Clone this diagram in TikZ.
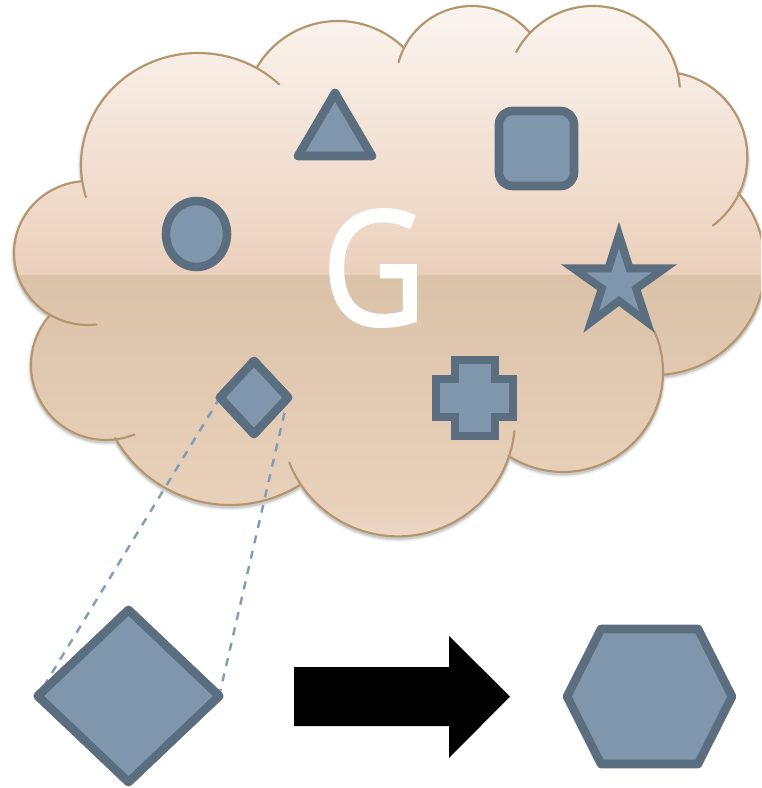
\documentclass[tikz,border=0pt]{standalone}
\usepackage{fontspec}
\setmainfont{Open Sans}
\newfontfamily\letterfont[FakeBold=1.5]{Open Sans}
\usetikzlibrary{shapes.geometric}
\definecolor{cloudline}{HTML}{B5956C}
\definecolor{shapefill}{HTML}{8096AD}
\definecolor{shapeline}{HTML}{5A6E80}
\definecolor{dashcol}{HTML}{7F9CB8}
\definecolor{cloudtop}{HTML}{FBF5F0}
\definecolor{cloudmid}{HTML}{EBD0BC}
\definecolor{bandtop}{HTML}{DBC3AA}
\definecolor{bandmid}{HTML}{E8D0BA}
\definecolor{bandlow}{HTML}{ECD8C8}
\newcommand{\lobe}[6]{plot[domain=#5:#6,samples=60] ({#1+#3*cos(\x)},{#2-#4*sin(\x)})}
\newcommand{\joined}[6]{-- plot[domain=#5:#6,samples=60] ({#1+#3*cos(\x)},{#2-#4*sin(\x)})}
\newcommand{\cloudoutline}{%
  (86,197)
  \joined{198}{165}{117}{112}{196.6}{46}
  \joined{338}{115}{94}{94}{149.9}{46.3}
  \joined{472}{82}{76}{76}{164.9}{40.2}
  \joined{593}{93}{87}{87}{152}{4}
  \joined{662}{157}{85.3}{85.3}{78.4}{-53.5}
  \joined{655}{265}{110}{110}{40.9}{-85.8}
  \joined{563}{372}{100}{100}{24}{-123}
  \joined{398}{419.4}{117}{117}{-5.7}{-158.4}
  \joined{230}{373}{132}{132}{-58.2}{-150.5}
  \joined{106}{365}{75}{75}{-67.6}{-221.6}
  \joined{88}{253}{74}{72}{276.4}{95}
  -- cycle}
\tikzset{
  x=0.75pt,y=-0.75pt,
  lobeline/.style={draw=cloudline,line width=1.6pt,line cap=round},
  figure/.style={draw=shapeline,fill=shapefill,line width=6.4pt,line join=round},
  sharpfigure/.style={draw=shapeline,fill=shapefill,line width=6pt,line join=miter},
  zoomline/.style={draw=dashcol,line width=1.8pt,dash pattern=on 6pt off 5.8pt},
  diamondfig/.style={figure,diamond,inner sep=0pt,outer sep=0pt},
  blockarrow/.style={fill=black,draw=none},
  bigletter/.style={text=white,inner sep=0pt,xscale=0.9,font=\letterfont\fontsize{120pt}{120pt}\selectfont}
}
\begin{document}
\begin{tikzpicture}
\clip (0,0) rectangle (761,788);
\fill[white] (0,0) rectangle (761,788);
% shadow
\begin{scope}[shift={(0,2)}]
\draw[black,opacity=0.05,line width=5pt] \cloudoutline;
\draw[black,opacity=0.07,line width=3pt] \cloudoutline;
\draw[black,opacity=0.09,line width=1.8pt] \cloudoutline;
\end{scope}
% body
\begin{scope}
\clip \cloudoutline;
\shade[top color=cloudtop,bottom color=cloudmid] (0,0) rectangle (761,275);
\shade[top color=bandtop,bottom color=bandmid] (0,275) rectangle (761,505);
\shade[top color=bandmid,bottom color=bandlow] (0,504.5) rectangle (761,540);
\end{scope}
% outline arcs
\foreach \cxx/\cyy/\rxx/\ryy/\aa/\bb in {
  198/165/117/112/196.6/46,
  338/115/94/94/149.9/46.3,
  472/82/76/76/164.9/40.2,
  593/93/87/87/152/4,
  662/157/85.3/85.3/78.4/-53.5,
  655/265/110/110/40.9/-85.8,
  563/372/100/100/24/-123,
  398/419.4/117/117/-5.7/-158.4,
  230/373/132/132/-58.2/-150.5,
  106/365/75/75/-67.6/-221.6,
  88/253/74/72/276.4/95}{
  \draw[lobeline] \lobe{\cxx}{\cyy}{\rxx}{\ryy}{\aa}{\bb};
}
% figures inside the cloud
\draw[figure] (298,156) -- (372,156) -- (335,93) -- cycle;
\draw[figure,rounded corners=10pt] (499,111) rectangle (574,186);
\draw[figure] (196.5,234) ellipse [x radius=30.5,y radius=33];
\draw[sharpfigure] (619,235) -- (608.4,268.4) -- (573.5,268.4) -- (601.9,288.6) -- (591,322) -- (619,301)
  -- (647,322) -- (636.1,288.6) -- (664.5,268.4) -- (629.6,268.4) -- cycle;
\draw[sharpfigure] (455,360) -- (495,360) -- (495,379) -- (513,379) -- (513,417) -- (495,417)
  -- (495,436) -- (455,436) -- (455,417) -- (436,417) -- (436,379) -- (455,379) -- cycle;
\node[bigletter] (letter) at (374,268) {G};
% diamonds and zoom lines
\node[diamondfig,minimum width=51pt,minimum height=54.75pt] (small) at (254,397.5) {};
\node[diamondfig,minimum width=136pt,minimum height=129pt] (big) at (128.5,696) {};
\draw[zoomline] (small.west) -- (big.west);
\draw[zoomline] (small.east) -- (big.east);
\node[diamondfig,minimum width=51pt,minimum height=54.75pt] at (small.center) {};
\node[diamondfig,minimum width=136pt,minimum height=129pt] at (big.center) {};
% block arrow
\fill[blockarrow] (294,667) -- (449,667) -- (449,636) -- (510,696.5) -- (449,758) -- (449,726) -- (294,726) -- cycle;
% hexagon
\draw[figure] (567,696.5) -- (601,629) -- (698,629) -- (732,696.5) -- (698,764) -- (601,764) -- cycle;
\end{tikzpicture}
\end{document}
